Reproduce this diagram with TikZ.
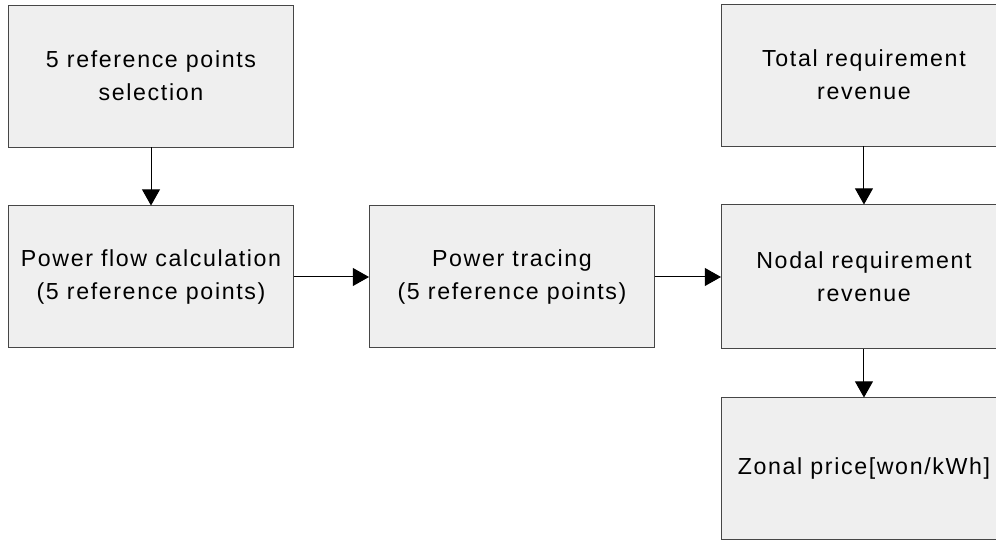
\documentclass[tikz,border=0pt]{standalone}
\usepackage{fontspec}
\setmainfont{Liberation Sans}
\usetikzlibrary{positioning, arrows.meta}
\definecolor{boxfill}{RGB}{239, 239, 239}
\definecolor{boxline}{RGB}{70, 70, 70}
\tikzset{
    flowbox/.style={rectangle, draw=boxline, fill=boxfill, line width=0.7pt,
        minimum width=7.125cm, minimum height=3.55cm, align=center,
        font=\fontsize{16.5}{23.5}\selectfont\addfontfeatures{LetterSpace=7}},
    flowarrow/.style={-{Triangle[length=11.5pt, width=12.8pt]}, line width=0.7pt}
}
\begin{document}
\begin{tikzpicture}
    \useasboundingbox (0,0) rectangle (24.9,-13.5);
    \node[flowbox] (sel) at (3.775,-1.9) {5 reference points\\selection};
    \node[flowbox, below=1.45cm of sel] (pfc) {Power flow calculation\\(5 reference points)};
    \node[flowbox, right=1.875cm of pfc] (trace) {Power tracing\\(5 reference points)};
    \node[flowbox, right=1.65cm of trace, minimum height=3.6cm] (nodal) {Nodal requirement\\revenue};
    \node[flowbox, above=1.45cm of nodal] (total) {Total requirement\\revenue};
    \node[flowbox, below=1.2cm of nodal, minimum height=3.55cm] (zonal) {Zonal price[won/kWh]};
    \draw[flowarrow] (sel) -- (pfc);
    \draw[flowarrow] (pfc) -- (trace);
    \draw[flowarrow] (trace) -- (nodal);
    \draw[flowarrow] (total) -- (nodal);
    \draw[flowarrow] (nodal) -- (zonal);
\end{tikzpicture}
\end{document}
